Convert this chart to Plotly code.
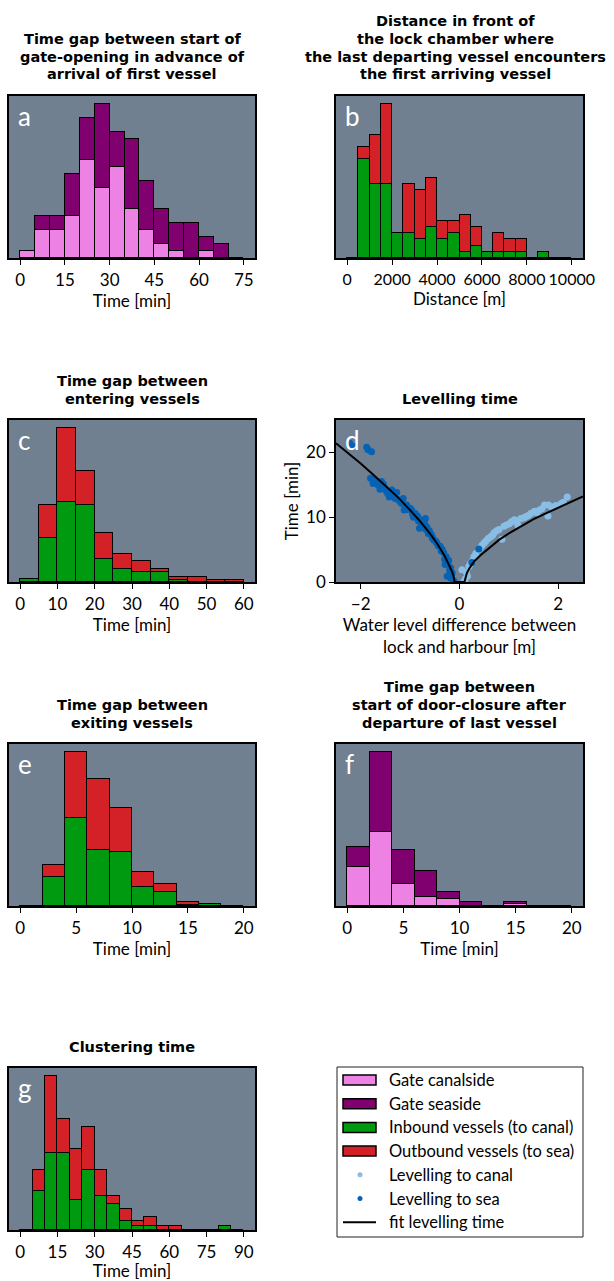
import plotly.graph_objects as go

# ---------------- data ----------------
a_bins = [0, 5, 10, 15, 20, 25, 30, 35, 40, 45, 50, 55, 60, 65, 70, 75]
a_canal = [1, 4, 4, 6, 14, 10, 13, 7, 4, 2, 1, 0, 1, 0, 0]
a_sea = [0, 2, 2, 6, 6, 12, 5, 10, 7, 5, 4, 5, 2, 2, 0]

b_bins = [0, 500, 1000, 1500, 2000, 2500, 3000, 3500, 4000, 4500, 5000, 5500,
          6000, 6500, 7000, 7500, 8000, 8500, 9000, 9500, 10000]
b_in = [0, 16, 12, 12, 4, 4, 3, 5, 3, 4, 1, 2, 1, 1, 1, 1, 0, 1, 0, 0]
b_out = [0, 2, 8, 13, 0, 8, 8, 8, 3, 2, 6, 3, 0, 3, 2, 2, 0, 0, 0, 0]

c_bins = [0, 5, 10, 15, 20, 25, 30, 35, 40, 45, 50, 55, 60]
c_in = [1, 17, 31, 30, 9, 5, 4, 4, 0.6, 0, 0, 0]
c_out = [0, 13, 29, 13, 10, 6, 4, 1, 1.3, 2, 0.7, 0.7]

e_bins = [0, 2, 4, 6, 8, 10, 12, 14, 16, 18, 20]
e_in = [0, 25, 75, 48, 46, 16, 12, 1, 2, 0]
e_out = [0, 10, 57, 61, 38, 13, 7, 2, 0, 0]

f_bins = [0, 2, 4, 6, 8, 10, 12, 14, 16, 18, 20]
f_canal = [18, 34, 10, 4, 3, 0, 0, 0.7, 0, 0]
f_sea = [9, 37, 16, 12, 3.5, 2, 0, 1.3, 0, 0]

g_bins = [0, 5, 10, 15, 20, 25, 30, 35, 40, 45, 50, 55, 60, 65, 70, 75, 80, 85, 90]
g_in = [0, 9, 18, 18, 7, 14, 8, 6, 2, 1, 1, 0, 0, 0, 0, 0, 1, 0]
g_out = [0, 5, 18, 8, 12, 10, 6, 2, 3, 1, 2, 1, 1, 0, 0, 0, 0, 0]

# levelling scatter (water level difference [m], time [min])
sea_dh = [-2.22, -2.16, -1.88, -1.85, -1.78, -1.80, -1.71, -1.58, -1.54, -1.51,
          -1.61, -1.37, -1.42, -1.33, -1.27, -1.24, -1.17, -1.14, -1.07, -1.00,
          -1.12, -0.97, -0.90, -0.85, -0.93, -0.80, -0.76, -0.69, -0.71, -0.81,
          -0.66, -0.61, -0.56, -0.52, -0.46, -0.39, -0.35, -0.32, -0.27, -0.22,
          -0.29, -0.18, -0.15, -0.18, -0.13, -0.25, 0.39, 0.25,
          -1.75, -1.65, -1.48, -1.45, -1.35, -1.30, -1.20, -1.10, -1.05, -0.95,
          -0.88, -0.83, -0.75, -0.73, -0.68, -0.63, -0.58, -0.55, -0.48, -0.43,
          -0.37, -0.30, -0.24, -0.20, -0.16, -0.12]
sea_t = [21.4, 21.0, 20.8, 20.4, 20.1, 16.0, 15.7, 15.5, 15.1, 14.5,
         14.3, 14.2, 13.1, 13.3, 13.8, 12.7, 12.1, 12.9, 11.9, 11.4,
         11.1, 11.1, 10.6, 10.2, 10.0, 9.6, 8.8, 9.8, 9.1, 8.3,
         8.5, 7.9, 7.1, 6.5, 6.0, 5.5, 5.0, 4.5, 3.9, 3.3,
         2.7, 2.2, 1.4, 0.6, 0.3, 0.9, 5.1, 3.0,
         15.2, 15.0, 14.0, 13.6, 13.6, 12.9, 12.4, 11.6, 11.2, 10.4,
         10.0, 9.4, 9.2, 8.6, 8.1, 7.5, 7.4, 6.8, 6.3, 5.6,
         4.8, 3.5, 2.9, 1.8, 1.0, 0.2]
canal_dh = [0.09, 0.16, 0.05, 0.19, 0.26, 0.29, 0.39, 0.46, 0.53, 0.63, 0.70,
            0.80, 0.86, 0.90, 1.01, 1.11, 1.18, 1.24, 1.35, 1.45, 1.52, 1.62,
            1.72, 1.79, 1.86, 2.06, 2.18,
            0.12, 0.14, 0.22, 0.33, 0.42, 0.50, 0.58, 0.67, 0.75, 0.95, 1.05,
            1.15, 1.30, 1.40, 1.57, 1.67, 1.80, 1.95, 2.10, -0.14]
canal_t = [0.1, 0.9, 1.9, 2.4, 3.2, 3.9, 5.0, 5.7, 6.3, 7.0, 7.6,
           8.1, 6.6, 8.6, 9.0, 9.6, 8.8, 9.8, 10.1, 10.6, 10.9, 11.1,
           11.9, 10.2, 11.6, 12.1, 13.1,
           0.5, 1.5, 2.8, 4.4, 5.3, 6.0, 6.7, 7.2, 7.9, 8.8, 9.3,
           9.4, 9.9, 10.3, 10.7, 11.3, 11.9, 11.8, 12.3, 0.5]
fit_dh = [-2.5, -2.25, -2.0, -1.75, -1.5, -1.25, -1.0, -0.8, -0.6, -0.45, -0.3,
          -0.2, -0.15, -0.12, -0.1, 0.1, 0.12, 0.15, 0.2, 0.3, 0.45, 0.6, 0.8,
          1.0, 1.25, 1.5, 1.75, 2.0, 2.25, 2.5]
fit_t = [21.4, 19.9, 18.3, 16.6, 14.9, 13.1, 11.1, 9.4, 7.5, 5.9, 4.0,
         2.5, 1.6, 0.9, 0.0, 0.0, 0.8, 1.4, 2.1, 3.2, 4.3, 5.3, 6.5,
         7.5, 8.6, 9.7, 10.6, 11.5, 12.4, 13.2]

# ---------------- style ----------------
W, H = 614, 1281
FONT = "Lato"
TFONT = "DejaVu Sans"
BG = "#708090"
PINK = "#EE82E4"
PURPLE = "#800070"
GREEN = "#009A10"
RED = "#D42027"
LBLUE = "#88BEE6"
DBLUE = "#0562B5"
LAB = 17      # tick / axis label size
TIT = 14.5    # title size


def fx(p):
    return p / W


def fy(p):
    return 1 - p / H


# panel geometry in pixels: (left, right, top, bottom)
LX = (9, 255)
RX = (336, 583)
panels = {
    "a": (1, LX, (96, 258)),
    "b": (2, RX, (96, 258)),
    "c": (3, LX, (420, 582)),
    "d": (4, RX, (420, 582)),
    "e": (5, LX, (744, 906)),
    "f": (6, RX, (744, 906)),
    "g": (7, LX, (1068, 1230)),
}

fig = go.Figure()


def add_hist(idx, bins, lower, upper, c_low, c_up):
    centers = [(bins[i] + bins[i + 1]) / 2 for i in range(len(bins) - 1)]
    widths = [bins[i + 1] - bins[i] for i in range(len(bins) - 1)]
    ax = "" if idx == 1 else str(idx)
    for vals, col in ((lower, c_low), (upper, c_up)):
        fig.add_trace(go.Bar(
            x=centers, y=vals, width=widths,
            marker=dict(color=col, line=dict(color="black", width=1.5)),
            xaxis="x" + ax, yaxis="y" + ax, showlegend=False,
        ))
    return max(l + u for l, u in zip(lower, upper))


ymax = {}
ymax["a"] = add_hist(1, a_bins, a_canal, a_sea, PINK, PURPLE)
ymax["b"] = add_hist(2, b_bins, b_in, b_out, GREEN, RED)
ymax["c"] = add_hist(3, c_bins, c_in, c_out, GREEN, RED)
ymax["e"] = add_hist(5, e_bins, e_in, e_out, GREEN, RED)
ymax["f"] = add_hist(6, f_bins, f_canal, f_sea, PINK, PURPLE)
ymax["g"] = add_hist(7, g_bins, g_in, g_out, GREEN, RED)

fig.add_trace(go.Scatter(x=canal_dh, y=canal_t, mode="markers",
                         marker=dict(color=LBLUE, size=7),
                         xaxis="x4", yaxis="y4", showlegend=False))
fig.add_trace(go.Scatter(x=sea_dh, y=sea_t, mode="markers",
                         marker=dict(color=DBLUE, size=7),
                         xaxis="x4", yaxis="y4", showlegend=False))
fig.add_trace(go.Scatter(x=fit_dh, y=fit_t, mode="lines",
                         line=dict(color="black", width=2),
                         xaxis="x4", yaxis="y4", showlegend=False))

xranges = {"a": [-3.75, 78.75], "b": [-500, 10500], "c": [-3, 63],
           "d": [-2.5, 2.5], "e": [-1, 21], "f": [-1, 21], "g": [-4.5, 94.5]}
xticks = {"a": [0, 15, 30, 45, 60, 75],
          "b": [0, 2000, 4000, 6000, 8000, 10000],
          "c": [0, 10, 20, 30, 40, 50, 60],
          "d": [-2, 0, 2],
          "e": [0, 5, 10, 15, 20],
          "f": [0, 5, 10, 15, 20],
          "g": [0, 15, 30, 45, 60, 75, 90]}
xtitles = {"a": "Time [min]", "b": "Distance [m]", "c": "Time [min]",
           "d": "Water level difference between<br>lock and harbour [m]",
           "e": "Time [min]", "f": "Time [min]", "g": "Time [min]"}

layout = dict(
    width=W, height=H, margin=dict(l=0, r=0, t=0, b=0, autoexpand=False),
    paper_bgcolor="white", plot_bgcolor=BG, barmode="stack", bargap=0,
    showlegend=False, font=dict(family=FONT, size=LAB, color="black"),
)

for name, (idx, (l, r), (t, b)) in panels.items():
    ax = "" if idx == 1 else str(idx)
    tsize = 16 if name == "b" else LAB
    layout["xaxis" + ax] = dict(
        domain=[fx(l), fx(r)], anchor="y" + ax, range=xranges[name],
        automargin=False,
        tickvals=xticks[name],
        ticktext=[str(v).replace("-", "\u2212") for v in xticks[name]],
        tickangle=0, ticks="outside", ticklen=5, tickwidth=1.3,
        tickcolor="black", showline=True, mirror=True, linecolor="black",
        linewidth=1.5, showgrid=False, zeroline=False,
        tickfont=dict(family=FONT, size=tsize, color="black"),
        ticklabelstandoff=1,
        title=dict(text=xtitles[name], font=dict(family=FONT, size=LAB),
                   standoff=1),
    )
    if name == "d":
        ydict = dict(range=[0, 25], tickvals=[0, 10, 20], ticks="outside",
                     ticklen=5, tickwidth=1.3, tickcolor="black",
                     tickfont=dict(family=FONT, size=LAB, color="black"),
                     title=dict(text="Time [min]",
                                font=dict(family=FONT, size=LAB), standoff=3))
    else:
        ydict = dict(range=[0, ymax[name] * 1.05], showticklabels=False,
                     ticks="")
    ydict.update(domain=[fy(b), fy(t)], anchor="x" + ax, showline=True,
                 automargin=False,
                 mirror=True, linecolor="black", linewidth=1.5,
                 showgrid=False, zeroline=False)
    layout["yaxis" + ax] = ydict

fig.update_layout(**layout)

# ---------------- titles ----------------
titles = {
    "a": ["Time gap between start of", "gate-opening in advance of",
          "arrival of first vessel"],
    "b": ["Distance in front of", "the lock chamber where",
          "the last departing vessel encounters", "the first arriving vessel"],
    "c": ["Time gap between", "entering vessels"],
    "d": ["Levelling time"],
    "e": ["Time gap between", "exiting vessels"],
    "f": ["Time gap between", "start of door-closure after",
          "departure of last vessel"],
    "g": ["Clustering time"],
}
for name, lines in titles.items():
    idx, (l, r), (t, b) = panels[name]
    n = len(lines)
    cx = (l + r) / 2 - (4 if name == "b" else 0)
    for i, line in enumerate(lines):
        cy = t - 21.5 - (n - 1 - i) * 18
        fig.add_annotation(
            text="<b>" + line + "</b>", xref="paper", yref="paper",
            x=fx(cx), y=fy(cy), xanchor="center", yanchor="middle",
            showarrow=False, borderpad=0,
            font=dict(family=TFONT, size=TIT, color="black"))
    # panel letter
    fig.add_annotation(
        text=name, xref="paper", yref="paper", x=fx(l + 7), y=fy(t + 2),
        xanchor="left", yanchor="top", showarrow=False,
        font=dict(family=FONT, size=26, color="white"))

# ---------------- legend (drawn) ----------------
leg_items = [
    ("patch", PINK, "Gate canalside"),
    ("patch", PURPLE, "Gate seaside"),
    ("patch", GREEN, "Inbound vessels (to canal)"),
    ("patch", RED, "Outbound vessels (to sea)"),
    ("dot", LBLUE, "Levelling to canal"),
    ("dot", DBLUE, "Levelling to sea"),
    ("line", "black", "fit levelling time"),
]
fig.add_shape(type="rect", xref="paper", yref="paper",
              x0=fx(337), x1=fx(583), y0=fy(1237), y1=fy(1067),
              line=dict(color="#222222", width=1), fillcolor="white")
row0, dy = 1080, 23.7
for i, (kind, col, label) in enumerate(leg_items):
    cy = row0 + i * dy
    if kind == "patch":
        fig.add_shape(type="rect", xref="paper", yref="paper",
                      x0=fx(343), x1=fx(376), y0=fy(cy + 5), y1=fy(cy - 5),
                      fillcolor=col, line=dict(color="black", width=1.5))
    elif kind == "dot":
        fig.add_shape(type="circle", xref="paper", yref="paper",
                      x0=fx(357.5), x1=fx(362.5), y0=fy(cy + 2.5),
                      y1=fy(cy - 2.5), fillcolor=col, line=dict(width=0))
    else:
        fig.add_shape(type="line", xref="paper", yref="paper",
                      x0=fx(343), x1=fx(376), y0=fy(cy), y1=fy(cy),
                      line=dict(color="black", width=2))
    fig.add_annotation(text=label, xref="paper", yref="paper", x=fx(387),
                       y=fy(cy), xanchor="left", yanchor="middle",
                       showarrow=False,
                       font=dict(family=FONT, size=16.5, color="black"))

fig.write_html("out.html")
